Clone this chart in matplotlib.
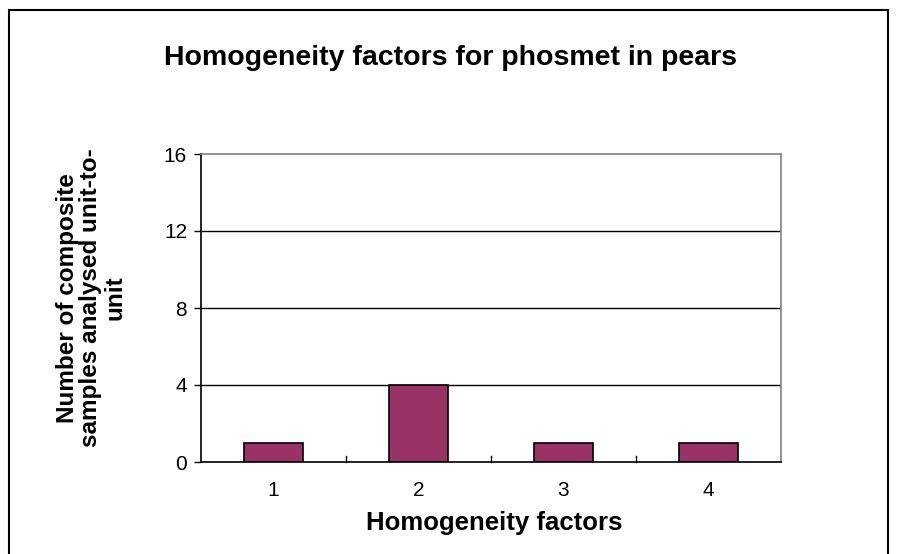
import matplotlib
matplotlib.use("Agg")
import matplotlib.pyplot as plt
from matplotlib.patches import Rectangle

categories = ["1", "2", "3", "4"]
values = [1, 4, 1, 1]
yticks = [0, 4, 8, 12, 16]
title = "Homogeneity factors for phosmet in pears"
xlabel = "Homogeneity factors"
ylabel = "Number of composite\nsamples analysed unit-to-\nunit"

plt.rcParams['font.family'] = ['Liberation Sans', 'DejaVu Sans']

W, H = 901, 554
fig = plt.figure(figsize=(W/100, H/100), dpi=100)
fig.patches.append(Rectangle((9/W, -0.01), (888-9)/W, 1.01 - 10/H, transform=fig.transFigure,
                             fill=False, edgecolor='black', linewidth=1.5))

left, right, top, bottom = 201, 781, 154, 462
ax = fig.add_axes([left/W, 1-bottom/H, (right-left)/W, (bottom-top)/H])

x = list(range(len(categories)))
ax.bar(x, values, width=0.41, color='#993366', edgecolor='black', linewidth=1.2, zorder=3)
ax.set_xlim(-0.5, len(categories)-0.5)
ax.set_ylim(0, 16)
ax.set_yticks(yticks)
ax.set_yticklabels([str(t) for t in yticks], fontsize=15)
ax.set_xticks(x)
ax.set_xticklabels(categories, fontsize=15)
ax.tick_params(axis='x', length=0, pad=14)
ax.tick_params(axis='y', length=5, direction='out', width=1, pad=5)
for b in [0.5, 1.5, 2.5]:
    ax.plot([b, b], [0, 0.3], color='black', linewidth=1, zorder=4, clip_on=False)
for t in [4, 8, 12]:
    ax.axhline(t, color='black', linewidth=1, zorder=1)
ax.spines['left'].set_color('black')
ax.spines['bottom'].set_color('black')
ax.spines['top'].set_color('#808080')
ax.spines['right'].set_color('#808080')
for s in ax.spines.values():
    s.set_linewidth(1.2)

fig.text(450/W, 1-58/H, title, fontsize=20.5, fontweight='bold', ha='center', va='center')
fig.text(494/W, 1-523/H, xlabel, fontsize=18.5, fontweight='bold', ha='center', va='center')
fig.text(91/W, 1-298/H, ylabel, fontsize=17.5, fontweight='bold', ha='center', va='center',
         rotation=90, linespacing=1.05)

fig.savefig("out.png", dpi=100)
